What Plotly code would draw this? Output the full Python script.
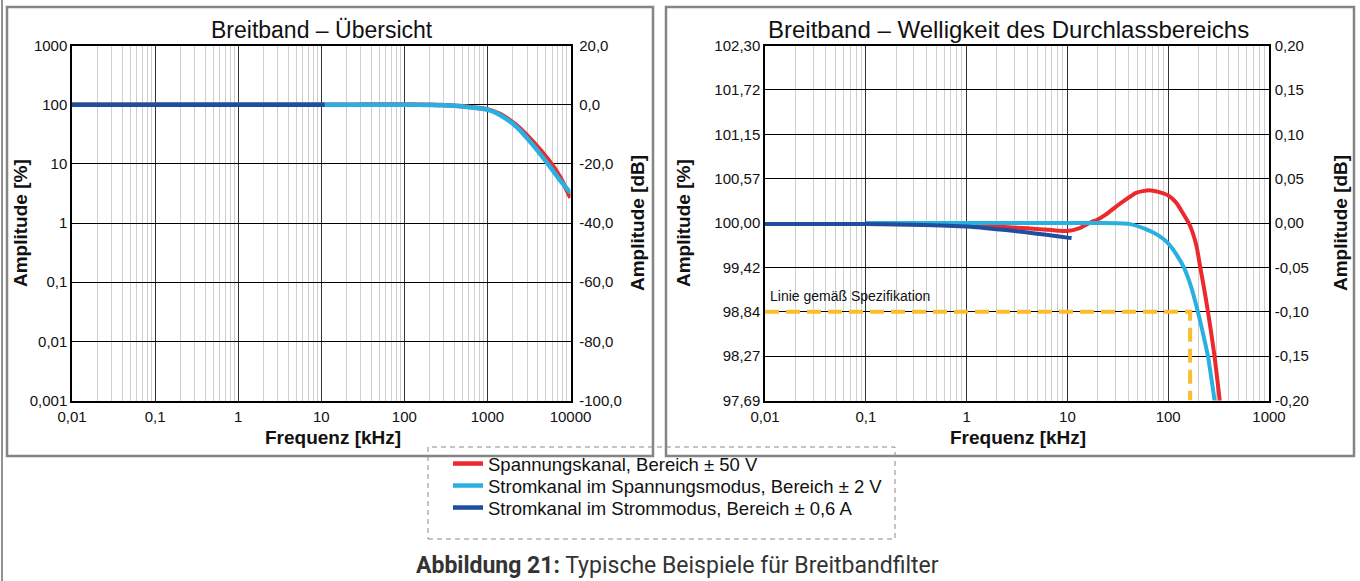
import plotly.graph_objects as go

W, H = 1360, 581

# Frequency response of the three channels (frequency in kHz, amplitude in dB)
freq_spannung = [0.01, 0.1, 1, 2, 4, 7, 10, 13, 16.5, 20, 24, 30, 35.5, 48, 65, 80, 100,
                 120, 140, 163, 190, 208, 228, 248, 268, 288, 306, 324, 400, 500, 700,
                 1000, 1400, 2200, 3500, 5600, 7500, 10000]
db_spannung = [-0.001, -0.001, -0.002, -0.004, -0.006, -0.008, -0.009, -0.006, 0.0, 0.004,
               0.0094, 0.018, 0.024, 0.034, 0.037, 0.035, 0.031, 0.023, 0.011, -0.002,
               -0.025, -0.05, -0.075, -0.1, -0.125, -0.15, -0.175, -0.2, -0.35, -0.55,
               -1.0, -1.6, -3.1, -6.8, -12.4, -19.2, -24.5, -31.5]

freq_strom_u = [0.1, 1, 10, 20, 41, 60, 80, 100, 120, 143, 170, 197, 222, 248, 268, 288,
                400, 500, 700, 1000, 1400, 2200, 3500, 5600, 7500, 10000]
db_strom_u = [0, 0, 0, 0, -0.001, -0.007, -0.014, -0.023, -0.035, -0.05, -0.073, -0.1,
              -0.125, -0.15, -0.175, -0.2, -0.4, -0.62, -1.08, -1.7, -3.4, -7.3, -13.5,
              -20.8, -25.6, -29.8]

freq_strom_i = [0.01, 0.1, 0.3, 1, 2, 3, 5, 7, 10, 11]
db_strom_i = [-0.001, -0.001, -0.002, -0.004, -0.007, -0.009, -0.012, -0.014, -0.0165, -0.017]

# Specification limit line in the pass-band view
spec_freq = [0.01, 165, 165]
spec_db = [-0.1, -0.1, -0.2]

series_names = ["Spannungskanal, Bereich ± 50 V",
                "Stromkanal im Spannungsmodus, Bereich ± 2 V",
                "Stromkanal im Strommodus, Bereich ± 0,6 A"]
series_colors = ["#ec2a2e", "#29b0e3", "#1d4f9e"]

# Overview axes (left scale in %, right scale in dB; 20 dB per decade)
ov_x_vals = [0.01, 0.1, 1, 10, 100, 1000, 10000]
ov_x_text = ["0,01", "0,1", "1", "10", "100", "1000", "10000"]
ov_db_vals = [20, 0, -20, -40, -60, -80, -100]
ov_db_text = ["20,0", "0,0", "-20,0", "-40,0", "-60,0", "-80,0", "-100,0"]
ov_pct_text = ["1000", "100", "10", "1", "0,1", "0,01", "0,001"]

# Ripple axes
rp_x_vals = [0.01, 0.1, 1, 10, 100, 1000]
rp_x_text = ["0,01", "0,1", "1", "10", "100", "1000"]
rp_db_vals = [0.2, 0.15, 0.1, 0.05, 0.0, -0.05, -0.1, -0.15, -0.2]
rp_db_text = ["0,20", "0,15", "0,10", "0,05", "0,00", "-0,05", "-0,10", "-0,15", "-0,20"]
rp_pct_text = ["102,30", "101,72", "101,15", "100,57", "100,00", "99,42", "98,84",
               "98,27", "97,69"]

FONT = "Liberation Sans, Arial, sans-serif"
GRID_MAJOR = "#333333"
GRID_MINOR = "#cfcfcf"
PANEL = "#858585"


def px_x(p):
    return p / W


def px_y(p):
    return 1 - p / H


def minor_decades(lo, hi):
    return [m * 10.0 ** e for e in range(lo, hi) for m in range(2, 10)]


fig = go.Figure()

data = [(freq_spannung, db_spannung), (freq_strom_u, db_strom_u), (freq_strom_i, db_strom_i)]
legend_ids = ["legend", "legend2", "legend3"]

# Overview: voltage and current/voltage-mode on the % scale, current mode on the dB scale
ov_axes = ["y", "y", "y2"]
for (f, d), name, col, ya, lg in zip(data, series_names, series_colors, ov_axes, legend_ids):
    fig.add_trace(go.Scatter(x=f, y=d, xaxis="x", yaxis=ya, mode="lines", name=name,
                             legend=lg,
                             line=dict(color=col, width=4.5, shape="spline", smoothing=0.6)))

# Pass-band ripple view
rp_axes = ["y3", "y3", "y4"]
for (f, d), name, col, ya in zip(data, series_names, series_colors, rp_axes):
    fig.add_trace(go.Scatter(x=f, y=d, xaxis="x2", yaxis=ya, mode="lines", name=name,
                             showlegend=False,
                             line=dict(color=col, width=4, shape="spline", smoothing=0.6)))

fig.add_trace(go.Scatter(x=spec_freq, y=spec_db, xaxis="x2", yaxis="y3", mode="lines",
                         showlegend=False, hoverinfo="skip",
                         line=dict(color="#fbbd2c", width=4, dash="14px,7px")))

y_dom = [px_y(400.5), px_y(45.5)]
tickfont = dict(family=FONT, size=15, color="#111")

common_x = dict(type="log", showline=True, mirror=True, linecolor="#000", linewidth=1.5,
                showgrid=True, gridcolor=GRID_MAJOR, gridwidth=1, ticks="",
                tickmode="array", tickfont=tickfont, zeroline=False, automargin=False,
                ticklabelstandoff=2)
common_yl = dict(domain=y_dom, side="left", tickmode="array", tickfont=tickfont,
                 ticks="", showgrid=True, gridcolor="#000", gridwidth=1, zeroline=False,
                 showline=True, mirror=True, linecolor="#000", linewidth=1.5,
                 automargin=False, ticklabelstandoff=0)
common_yr = dict(side="right", tickmode="array", tickfont=tickfont, ticks="",
                 showgrid=False, zeroline=False, showline=True, linecolor="#000",
                 linewidth=1.5, automargin=False)


def legend_row(ypx):
    return dict(x=px_x(448), y=px_y(ypx), xanchor="left", yanchor="middle",
                bgcolor="rgba(0,0,0,0)", borderwidth=0,
                font=dict(family=FONT, size=18.5, color="#111"))


fig.update_layout(
    width=W, height=H, autosize=False,
    margin=dict(l=0, r=0, t=0, b=0),
    paper_bgcolor="white", plot_bgcolor="white",
    font=dict(family=FONT, color="#111"),
    xaxis=dict(common_x, domain=[px_x(72), px_x(570.5)], range=[-2, 4], anchor="y",
               tickvals=ov_x_vals, ticktext=ov_x_text,
               minor=dict(tickmode="array", tickvals=minor_decades(-2, 4), showgrid=True,
                          gridcolor=GRID_MINOR, gridwidth=1, ticks="")),
    yaxis=dict(common_yl, range=[-100, 20], anchor="x",
               tickvals=ov_db_vals, ticktext=ov_pct_text),
    yaxis2=dict(common_yr, overlaying="y", anchor="x", range=[-100, 20],
                tickvals=ov_db_vals, ticktext=ov_db_text, ticklabelstandoff=4),
    xaxis2=dict(common_x, domain=[px_x(765), px_x(1269)], range=[-2, 3], anchor="y3",
                tickvals=rp_x_vals, ticktext=rp_x_text,
                minor=dict(tickmode="array", tickvals=minor_decades(-2, 3), showgrid=True,
                           gridcolor=GRID_MINOR, gridwidth=1, ticks="")),
    yaxis3=dict(common_yl, range=[-0.2, 0.2], anchor="x2",
                tickvals=rp_db_vals, ticktext=rp_pct_text),
    yaxis4=dict(common_yr, overlaying="y3", anchor="x2", range=[-0.2, 0.2],
                tickvals=rp_db_vals, ticktext=rp_db_text, ticklabelstandoff=1),
    legend=legend_row(464),
    legend2=legend_row(486),
    legend3=legend_row(508),
    showlegend=True,
)

shapes = [
    # panel frames
    dict(type="rect", xref="paper", yref="paper", x0=px_x(7), x1=px_x(653),
         y0=px_y(456), y1=px_y(7), line=dict(color=PANEL, width=2.5)),
    dict(type="rect", xref="paper", yref="paper", x0=px_x(666), x1=px_x(1354),
         y0=px_y(456), y1=px_y(7), line=dict(color=PANEL, width=2.5)),
    # page rule at the left edge
    dict(type="line", xref="paper", yref="paper", x0=px_x(2), x1=px_x(2),
         y0=0, y1=1, line=dict(color="#6e6e6e", width=1.5)),
    # dashed legend frame
    dict(type="rect", xref="paper", yref="paper", x0=px_x(428), x1=px_x(895),
         y0=px_y(539), y1=px_y(447), line=dict(color="#8a8a8a", width=1, dash="5px,4px")),
]
fig.update_layout(shapes=shapes)


def axis_title(text, xpx, ypx, angle=0):
    return dict(text=f"<b>{text}</b>", xref="paper", yref="paper", x=px_x(xpx),
                y=px_y(ypx), xanchor="center", yanchor="middle", textangle=angle,
                showarrow=False, font=dict(family=FONT, size=19, color="#111"))


annotations = [
    dict(text="Breitband – Übersicht", xref="paper", yref="paper",
         x=px_x(321.5), y=px_y(30), xanchor="center", yanchor="middle", showarrow=False,
         font=dict(family=FONT, size=23, color="#111")),
    dict(text="Breitband – Welligkeit des Durchlassbereichs", xref="paper", yref="paper",
         x=px_x(1008), y=px_y(30), xanchor="center", yanchor="middle", showarrow=False,
         font=dict(family=FONT, size=24, color="#111")),
    axis_title("Amplitude [%]", 20, 223, -90),
    axis_title("Amplitude [dB]", 637, 223, -90),
    axis_title("Amplitude [%]", 683, 223, -90),
    axis_title("Amplitude [dB]", 1340, 223, -90),
    axis_title("Frequenz [kHz]", 333, 437),
    axis_title("Frequenz [kHz]", 1018, 437),
    dict(text="Linie gemäß Spezifikation", xref="paper", yref="paper",
         x=px_x(768), y=px_y(296), xanchor="left", yanchor="middle", showarrow=False,
         font=dict(family=FONT, size=14, color="#111")),
    dict(text="<b>Abbildung 21:</b> Typische Beispiele für Breitbandfilter",
         xref="paper", yref="paper", x=px_x(677), y=px_y(565), xanchor="center",
         yanchor="middle", showarrow=False,
         font=dict(family="Roboto, sans-serif", size=23, color="#333")),
]
fig.update_layout(annotations=annotations)

fig.write_html("out.html")
